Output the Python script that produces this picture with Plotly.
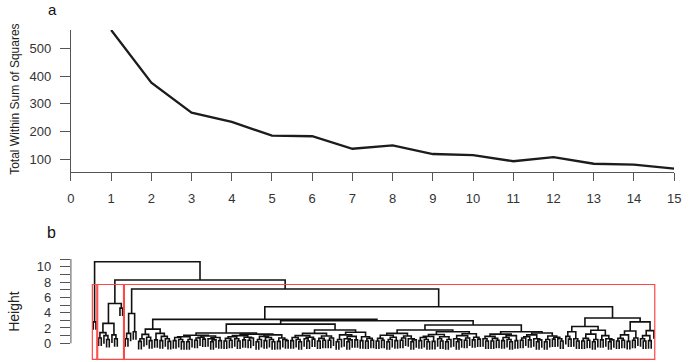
import plotly.graph_objects as go

# ---------------- panel a: elbow curve ----------------
k_values = list(range(1, 16))
wss_values = [566, 376, 268, 235, 185, 183, 138, 150, 119, 115, 93, 108, 84, 81, 66]
x_ticks_a = list(range(0, 16))
y_ticks_a = [100, 200, 300, 400, 500]

# ---------------- panel b: dendrogram (node = [height, left, right], leaf = 0) -------------
P1 = [0.35, 0, 0]
P2 = [0.55, 0, 0]
P3 = [0.25, 0, 0]
P4 = [0.45, 0, 0]
T1 = [0.6, 0, [0.3, 0, 0]]
T2 = [0.5, [0.2, 0, 0], 0]
T3 = [0.7, [0.4, 0, 0], 0]
Q1 = [0.65, [0.3, 0, 0], [0.4, 0, 0]]
Q2 = [0.75, [0.35, 0, 0], [0.5, 0, [0.2, 0, 0]]]
Q3 = [0.6, 0, [0.45, [0.2, 0, 0], 0]]

A = [2.8, 0, 0]
B1L = [2.6, [1.4, [0.7, 0, 0], [1.0, 0, [0.5, 0, 0]]], [1.1, 0, [0.6, 0, 0]]]
B1R = [4.6, 0, 0]
B1 = [5.2, B1L, B1R]
C = [3.9, [1.3, [0.6, 0, 0], 0], [1.5, 0, 0]]
E1 = [1.85, [1.17, [0.6, P3, 0], [0.8, 0, P1]], [1.3, P4, [0.9, P1, [0.6, 0, P3]]]]
GLa = [1.05, [0.85, Q2, T2], [0.95, [0.8, T3, P2], [0.75, Q3, P1]]]
GLb = [1.2, [1.0, [0.85, Q1, T1], [0.8, P4, T3]], [1.1, [0.9, T2, Q2], [0.7, P3, [0.5, 0, P1]]]]
GL = [1.35, GLa, GLb]
GR = [1.74, [1.3, [1.0, Q2, [0.8, T1, P2]], [0.95, Q1, T3]],
      [1.45, [1.1, T2, [0.9, Q3, P4]], [0.85, P1, Q1]]]
G = [2.5, GL, GR]
HLa = [1.3, [1.05, Q1, [0.8, T2, P1]], [0.95, T3, Q3]]
HLb = [1.5, [1.15, [0.9, Q2, P3], [0.85, T1, T2]], [1.25, [1.0, Q3, T3], [0.8, P4, P2]]]
HL = [1.74, HLa, HLb]
HRa = [1.2, [0.9, T1, Q1], [1.0, Q2, P1]]
HRb = [1.35, [1.1, [0.85, T3, P4], Q3], [0.95, T2, [0.8, P2, T1]]]
HR = [1.5, HRa, HRb]
H = [2.4, HL, HR]
E2 = [2.95, G, H]
E = [3.13, E1, E2]
FLa = [1.5, [0.9, 0, P2], T1]
FLb = [1.7, [1.2, Q1, T2], [1.0, P4, Q3]]
FL = [2.2, FLa, FLb]
FRL = [1.6, [1.1, Q1, P3], T3]
FRR = [1.65, [1.0, T1, P1], 0]
FR = [2.8, FRL, FRR]
F = [3.3, FL, FR]
D = [4.78, E, F]
B2 = [7.1, C, D]
B = [8.26, B1, B2]
tree = [10.65, A, B]

k_clusters = 3
hang_fraction = 0.1
rect_bottom = -2.09
y_ticks_b = list(range(0, 12))
y_ticktext_b = ["0", "", "2", "", "4", "", "6", "", "8", "", "10", ""]

# ---------------- dendrogram geometry from the tree ----------------
def heights(node, out):
    if node == 0:
        return
    out.append(node[0])
    heights(node[1], out)
    heights(node[2], out)

all_h = []
heights(tree, all_h)
hang = hang_fraction * (max(all_h) - min(all_h))

seg_x, seg_y = [], []
counter = [0]
leaf_span = {}

def place(node):
    if node == 0:
        counter[0] += 1
        return counter[0], None, (counter[0], counter[0])
    h, l, r = node
    xl, hl, sl = place(l)
    xr, hr, sr = place(r)
    yl = hl if hl is not None else h - hang
    yr = hr if hr is not None else h - hang
    seg_x.extend([xl, xl, xr, xr, None])
    seg_y.extend([yl, h, h, yr, None])
    span = (sl[0], sr[1])
    leaf_span[id(node)] = span
    return (xl + xr) / 2, h, span

place(tree)
n_leaves = counter[0]

# cut into k clusters (split highest merges)
clusters = [tree]
while len(clusters) < k_clusters:
    clusters.sort(key=lambda n: -n[0] if n != 0 else 1)
    top = clusters.pop(0)
    clusters += [top[1], top[2]]
clusters.sort(key=lambda n: leaf_span[id(n)][0])
sorted_h = sorted(all_h, reverse=True)
rect_top = (sorted_h[k_clusters - 2] + sorted_h[k_clusters - 1]) / 2

W, Hpx = 691, 362
# pixel layout
ax_left, ax_right = 68, 681
leaf_first_px, leaf_last_px = 90.7, 660.4
u = (leaf_last_px - leaf_first_px) / (n_leaves - 1)
x2_range = [1 - (leaf_first_px - ax_left) / u, n_leaves + (ax_right - leaf_last_px) / u]

fig = go.Figure()
fig.add_trace(go.Scatter(x=k_values, y=wss_values, mode="lines",
                         line=dict(color="#1c1c1c", width=2.3),
                         xaxis="x", yaxis="y", showlegend=False, hoverinfo="skip"))
fig.add_trace(go.Scatter(x=seg_x, y=seg_y, mode="lines",
                         line=dict(color="#111111", width=1.6),
                         xaxis="x2", yaxis="y2", showlegend=False, hoverinfo="skip"))

for cl in clusters:
    s = leaf_span[id(cl)]
    fig.add_shape(type="rect", xref="x2", yref="y2",
                  x0=s[0] - 0.34, x1=s[1] + 0.33, y0=rect_bottom, y1=rect_top,
                  line=dict(color="rgb(255,70,70)", width=1.2), fillcolor="rgba(0,0,0,0)",
                  layer="above")

# y axis line of the dendrogram (spans tick range only)
fig.add_shape(type="line", xref="x2 domain", yref="y2", x0=0, x1=0,
              y0=y_ticks_b[0], y1=y_ticks_b[-1], line=dict(color="#555555", width=1))

font = "Liberation Sans, Arial, sans-serif"
tickfont = dict(family=font, size=13, color="#333333")

def label(text, xpx, ypx, size, angle=0, color="#111111", yanchor="middle"):
    return dict(text=text, x=xpx / W, y=1 - ypx / Hpx, xref="paper", yref="paper",
                xanchor="center", yanchor=yanchor, showarrow=False, textangle=angle,
                borderpad=0, font=dict(family=font, size=size, color=color))

fig.update_layout(
    width=W, height=Hpx, margin=dict(l=0, r=0, t=0, b=0),
    paper_bgcolor="white", plot_bgcolor="white",
    xaxis=dict(domain=[ax_left / W, ax_right / W], range=[0, 15], tickvals=x_ticks_a,
               ticks="outside", ticklen=8, tickcolor="#555555", showline=True,
               linecolor="#555555", showgrid=False, zeroline=False, tickfont=tickfont,
               ticklabelstandoff=6, anchor="y"),
    yaxis=dict(domain=[1 - 172 / Hpx, 1 - 30 / Hpx], range=[54.2, 566], tickvals=y_ticks_a,
               ticks="outside", ticklen=10, tickcolor="#555555", showline=True,
               linecolor="#555555", showgrid=False, zeroline=False, tickfont=tickfont,
               ticklabelstandoff=6, anchor="x"),
    xaxis2=dict(domain=[ax_left / W, ax_right / W], range=x2_range, visible=False,
                anchor="y2"),
    yaxis2=dict(domain=[0, 1 - 255 / Hpx], range=[-2.44, 11.53], tickvals=y_ticks_b,
                ticktext=y_ticktext_b, ticks="outside", ticklen=10, tickcolor="#555555",
                showline=False, showgrid=False, zeroline=False, tickfont=tickfont,
                ticklabelstandoff=6, anchor="x2"),
    annotations=[
        label("a", 49, 0, 15, yanchor="top"),
        label("b", 48, 232, 16),
        label("Total Within Sum of Squares", 11, 99, 12, -90, "#222222"),
        label("Height", 10, 311, 14, -90, "#222222"),
    ],
)

fig.write_html("out.html")
